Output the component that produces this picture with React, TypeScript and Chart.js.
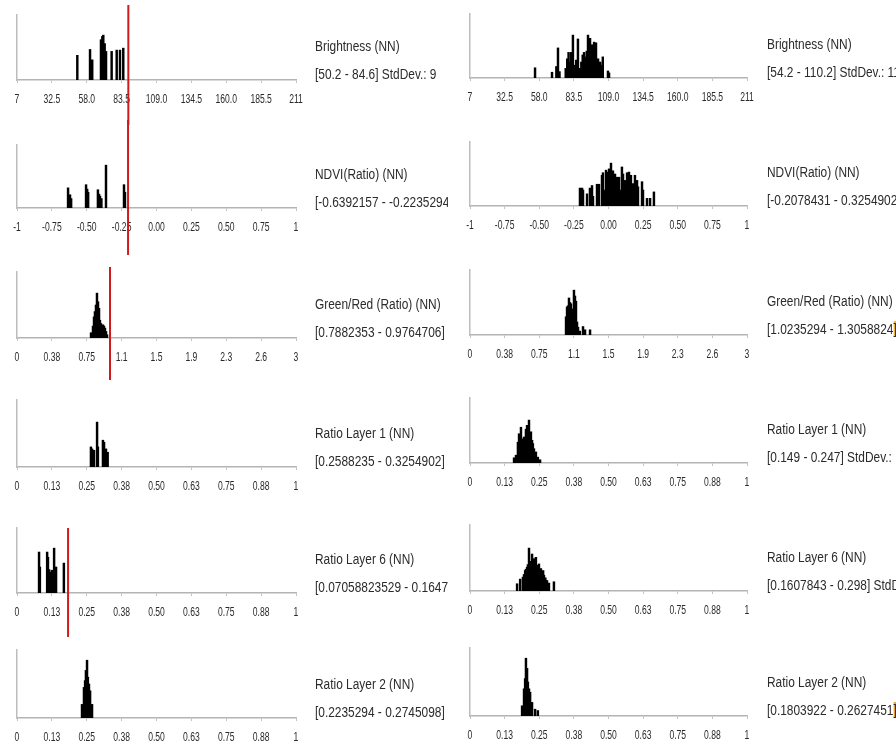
import React, { useEffect, useRef } from "react";
import { Chart, registerables } from "chart.js";
Chart.register(...registerables);

// ---------- tick values / labels ----------
const brightnessTicks = [7, 32.5, 58, 83.5, 109, 134.5, 160, 185.5, 211];
const brightnessTickLabels = ["7", "32.5", "58.0", "83.5", "109.0", "134.5", "160.0", "185.5", "211"];
const ndviTicks = [-1, -0.75, -0.5, -0.25, 0, 0.25, 0.5, 0.75, 1];
const ndviTickLabels = ["-1", "-0.75", "-0.50", "-0.25", "0.00", "0.25", "0.50", "0.75", "1"];
const greenRedTicks = [0, 0.375, 0.75, 1.125, 1.5, 1.875, 2.25, 2.625, 3];
const greenRedTickLabels = ["0", "0.38", "0.75", "1.1", "1.5", "1.9", "2.3", "2.6", "3"];
const ratioTicks = [0, 0.125, 0.25, 0.375, 0.5, 0.625, 0.75, 0.875, 1];
const ratioTickLabels = ["0", "0.13", "0.25", "0.38", "0.50", "0.63", "0.75", "0.88", "1"];

// ---------- histogram data (bin value, relative count) ----------
const brightnessLeftBins = [51.1, 60.4, 62.0, 68.4, 69.4, 70.1, 71.1, 72.1, 76.2, 79.9, 82.3, 84.7];
const brightnessLeftCounts = [38, 47, 31, 62, 67, 69, 56, 44, 44, 46, 46, 49];
const brightnessLeftMarker = 88.4;

const brightnessRightBins = [54.9, 67.4, 70.6, 71.8, 72.9, 77.5, 78.6, 79.6, 80.5, 81.5, 82.8, 84.0, 85.2, 86.5, 87.8, 89.0, 90.0, 91.0, 92.0, 93.0, 93.9, 94.7, 95.4, 96.2, 96.9, 97.6, 98.4, 99.1, 99.8, 100.6, 101.3, 102.1, 102.9, 103.7, 104.8, 108.6, 109.4];
const brightnessRightCounts = [16, 9, 18, 47, 10, 15, 30, 40, 25, 40, 67, 20, 28, 61, 15, 25, 36, 40, 33, 42, 67, 30, 62, 38, 52, 34, 56, 30, 55, 28, 30, 22, 25, 20, 33, 11, 8];

const ndviLeftBins = [-0.634, -0.62, -0.612, -0.505, -0.497, -0.49, -0.42, -0.412, -0.405, -0.395, -0.362, -0.233, -0.226];
const ndviLeftCounts = [32, 21, 15, 37, 30, 25, 29, 22, 19, 15, 68, 37, 25];
const ndviLeftMarker = -0.204;

const ndviRightBins = [-0.206, -0.191, -0.184, -0.155, -0.134, -0.119, -0.112, -0.083, -0.069, -0.047, -0.04, -0.03, -0.018, -0.011, 0.004, 0.011, 0.018, 0.025, 0.032, 0.04, 0.047, 0.054, 0.061, 0.068, 0.076, 0.083, 0.097, 0.105, 0.112, 0.119, 0.126, 0.134, 0.141, 0.148, 0.155, 0.162, 0.17, 0.177, 0.184, 0.191, 0.206, 0.213, 0.242, 0.249, 0.278, 0.3, 0.328];
const ndviRightCounts = [28, 28, 25, 19, 28, 32, 15, 34, 34, 48, 52, 25, 56, 53, 58, 30, 67, 28, 55, 26, 50, 24, 45, 27, 45, 25, 61, 50, 24, 40, 26, 52, 22, 53, 25, 48, 22, 35, 20, 48, 40, 30, 38, 25, 12, 12, 22];

const greenRedLeftBins = [0.796, 0.817, 0.828, 0.838, 0.849, 0.86, 0.871, 0.882, 0.892, 0.903, 0.914, 0.925, 0.935, 0.946, 0.957, 0.968];
const greenRedLeftCounts = [8, 18, 32, 40, 50, 68, 55, 45, 27, 22, 17, 20, 18, 15, 10, 5];
const greenRedLeftMarker = 1.0;

const greenRedRightBins = [1.04, 1.051, 1.061, 1.072, 1.083, 1.094, 1.105, 1.115, 1.126, 1.137, 1.148, 1.159, 1.17, 1.19, 1.224, 1.246, 1.3];
const greenRedRightCounts = [28, 43, 45, 57, 50, 48, 33, 40, 69, 60, 52, 20, 12, 6, 13, 8, 8];

const ratio1LeftBins = [0.265, 0.269, 0.276, 0.287, 0.29, 0.308, 0.312, 0.319, 0.325];
const ratio1LeftCounts = [30, 27, 25, 67, 30, 40, 37, 27, 22];

const ratio1RightBins = [0.159, 0.166, 0.173, 0.177, 0.18, 0.184, 0.188, 0.191, 0.195, 0.198, 0.202, 0.206, 0.209, 0.213, 0.217, 0.22, 0.224, 0.227, 0.231, 0.238, 0.245, 0.253];
const ratio1RightCounts = [8, 12, 32, 45, 40, 55, 35, 37, 40, 38, 52, 58, 50, 66, 45, 48, 35, 30, 22, 17, 9, 5];

const ratio6LeftBins = [0.079, 0.082, 0.108, 0.111, 0.115, 0.118, 0.122, 0.125, 0.129, 0.133, 0.14, 0.168];
const ratio6LeftCounts = [63, 40, 63, 55, 36, 32, 30, 35, 30, 69, 40, 46];
const ratio6LeftMarker = 0.183;

const ratio6RightBins = [0.17, 0.181, 0.191, 0.195, 0.199, 0.202, 0.206, 0.209, 0.213, 0.217, 0.22, 0.224, 0.227, 0.231, 0.235, 0.238, 0.242, 0.245, 0.249, 0.252, 0.256, 0.26, 0.264, 0.267, 0.272, 0.278, 0.285, 0.303];
const ratio6RightCounts = [11, 18, 21, 25, 31, 33, 36, 40, 65, 45, 44, 56, 42, 49, 40, 51, 39, 35, 41, 32, 34, 28, 31, 24, 20, 16, 12, 14];

const ratio2LeftBins = [0.233, 0.24, 0.244, 0.247, 0.251, 0.254, 0.258, 0.262, 0.269];
const ratio2LeftCounts = [20, 45, 55, 70, 85, 60, 50, 40, 20];

const ratio2RightBins = [0.188, 0.195, 0.199, 0.202, 0.206, 0.209, 0.213, 0.217, 0.224, 0.235, 0.245];
const ratio2RightCounts = [15, 40, 55, 85, 70, 50, 40, 35, 20, 10, 8];

// ---------- panel texts ----------
const leftTitles = ["Brightness (NN)", "NDVI(Ratio) (NN)", "Green/Red (Ratio) (NN)", "Ratio Layer 1 (NN)", "Ratio Layer 6 (NN)", "Ratio Layer 2 (NN)"];
const leftRanges = ["[50.2 - 84.6] StdDev.: 9", "[-0.6392157 - -0.2235294]", "[0.7882353 - 0.9764706]", "[0.2588235 - 0.3254902]", "[0.07058823529 - 0.1647059]", "[0.2235294 - 0.2745098]"];
const rightTitles = ["Brightness (NN)", "NDVI(Ratio) (NN)", "Green/Red (Ratio) (NN)", "Ratio Layer 1 (NN)", "Ratio Layer 6 (NN)", "Ratio Layer 2 (NN)"];
const rightRanges = ["[54.2 - 110.2] StdDev.: 11.2", "[-0.2078431 - 0.3254902] StdDev.: 0.1", "[1.0235294 - 1.3058824", "[0.149 - 0.247] StdDev.:", "[0.1607843 - 0.298] StdDev.: 0.02", "[0.1803922 - 0.2627451"];
// highlighted closing bracket (selection marks visible in the source)
const rightRangeHighlights = ["", "", "#f1c232", "", "", "#eda63a"];

type Panel = {
  bins: number[];
  counts: number[];
  ticks: number[];
  tickLabels: string[];
  marker?: number;
};

const leftPanels: Panel[] = [
  { bins: brightnessLeftBins, counts: brightnessLeftCounts, ticks: brightnessTicks, tickLabels: brightnessTickLabels, marker: brightnessLeftMarker },
  { bins: ndviLeftBins, counts: ndviLeftCounts, ticks: ndviTicks, tickLabels: ndviTickLabels, marker: ndviLeftMarker },
  { bins: greenRedLeftBins, counts: greenRedLeftCounts, ticks: greenRedTicks, tickLabels: greenRedTickLabels, marker: greenRedLeftMarker },
  { bins: ratio1LeftBins, counts: ratio1LeftCounts, ticks: ratioTicks, tickLabels: ratioTickLabels },
  { bins: ratio6LeftBins, counts: ratio6LeftCounts, ticks: ratioTicks, tickLabels: ratioTickLabels, marker: ratio6LeftMarker },
  { bins: ratio2LeftBins, counts: ratio2LeftCounts, ticks: ratioTicks, tickLabels: ratioTickLabels },
];
const rightPanels: Panel[] = [
  { bins: brightnessRightBins, counts: brightnessRightCounts, ticks: brightnessTicks, tickLabels: brightnessTickLabels },
  { bins: ndviRightBins, counts: ndviRightCounts, ticks: ndviTicks, tickLabels: ndviTickLabels },
  { bins: greenRedRightBins, counts: greenRedRightCounts, ticks: greenRedTicks, tickLabels: greenRedTickLabels },
  { bins: ratio1RightBins, counts: ratio1RightCounts, ticks: ratioTicks, tickLabels: ratioTickLabels },
  { bins: ratio6RightBins, counts: ratio6RightCounts, ticks: ratioTicks, tickLabels: ratioTickLabels },
  { bins: ratio2RightBins, counts: ratio2RightCounts, ticks: ratioTicks, tickLabels: ratioTickLabels },
];

// ---------- layout (pixels) ----------
const LEFT_COL = { axisLeft: 17, axisRight: 296, textX: 315, textW: 133 };
const RIGHT_COL = { axisLeft: 470, axisRight: 747, textX: 767, textW: 140 };
const leftTops = [15, 145, 272, 400, 528, 650];
const leftBases = [80, 208, 338, 467, 593, 718];
const rightTops = [14, 142, 270, 398, 525, 648];
const rightBases = [78, 206, 335, 463, 591, 716];
// red marker extents above axis top / below baseline
const leftMarkerExt = [
  [10, 45],
  [25, 47],
  [5, 42],
  [0, 0],
  [0, 44],
  [0, 0],
];

const PADL = 24, PADR = 24, PADT = 30, PADB = 30;
const TICK_LEN = 3, TICK_PAD = 9, TICK_SIZE = 13, TICK_LH = 14;
const XAXIS_H = TICK_LEN + TICK_PAD + TICK_LH;
const TICK_SQUEEZE = 0.66;
const TICK_FONT = "'Liberation Sans', Arial, sans-serif";
const TEXT_FONT = "'Liberation Sans', Arial, sans-serif";

// squeeze tick labels horizontally (narrow font look) using fillText maxWidth
const narrowTicksPlugin = {
  id: "narrowTicks",
  beforeDraw(chart: any) {
    const sc = chart.scales.x;
    if (!sc) return;
    const items = sc.getLabelItems();
    const ctx = chart.ctx;
    ctx.save();
    for (const it of items) {
      ctx.font = it.font.string;
      const w = ctx.measureText(String(it.label)).width;
      it.options.maxWidth = w * TICK_SQUEEZE;
    }
    ctx.restore();
  },
};

const markerPlugin = {
  id: "marker",
  afterDraw(chart: any, _args: any, opts: any) {
    if (opts.value === undefined || opts.value === null) return;
    const x = chart.scales.x.getPixelForValue(opts.value);
    const { top, bottom } = chart.chartArea;
    const ctx = chart.ctx;
    ctx.save();
    ctx.strokeStyle = "#d31a1a";
    ctx.lineWidth = 2;
    ctx.beginPath();
    ctx.moveTo(x, top - opts.above);
    ctx.lineTo(x, bottom + opts.below);
    ctx.stroke();
    ctx.restore();
  },
};

function Histogram({ p, left, right, top, base, ext }: { p: Panel; left: number; right: number; top: number; base: number; ext: number[] }) {
  const ref = useRef<HTMLCanvasElement>(null);
  const w = right - left + PADL + PADR;
  const h = base - top + PADT + XAXIS_H + PADB;
  useEffect(() => {
    const min = p.ticks[0];
    const max = p.ticks[p.ticks.length - 1];
    const chart = new Chart(ref.current as HTMLCanvasElement, {
      type: "bar",
      data: {
        datasets: [
          {
            data: p.bins.map((x, i) => ({ x, y: p.counts[i] })) as any,
            backgroundColor: "#000",
            borderWidth: 0,
            barThickness: 1.8,
          },
        ],
      },
      options: {
        animation: false,
        responsive: false,
        events: [],
        layout: { padding: { left: PADL, right: PADR, top: PADT, bottom: PADB } },
        plugins: {
          legend: { display: false },
          tooltip: { enabled: false },
          marker: { value: p.marker, above: ext[0], below: ext[1] },
        } as any,
        scales: {
          x: {
            type: "linear",
            min,
            max,
            offset: false,
            afterBuildTicks: (ax: any) => {
              ax.ticks = p.ticks.map((v) => ({ value: v }));
            },
            afterFit: (ax: any) => {
              ax.height = XAXIS_H;
            },
            ticks: {
              autoSkip: false,
              maxRotation: 0,
              padding: TICK_PAD,
              color: "#2a2a2a",
              font: { family: TICK_FONT, size: TICK_SIZE, lineHeight: TICK_LH + "px" },
              callback: (_v: any, i: number) => p.tickLabels[i],
            },
            grid: { offset: false, drawOnChartArea: false, drawTicks: true, tickLength: TICK_LEN, color: "#c4c4c4" },
            border: { color: "#b4b4b4", width: 1.5 },
          },
          y: {
            min: 0,
            max: 100,
            afterFit: (ax: any) => {
              ax.width = 0;
            },
            ticks: { display: false },
            grid: { display: false, drawTicks: false },
            border: { color: "#bdbdbd", width: 1.5 },
          },
        },
      },
      plugins: [narrowTicksPlugin, markerPlugin],
    });
    return () => chart.destroy();
  }, []);
  return (
    <canvas
      ref={ref}
      width={w}
      height={h}
      style={{ position: "absolute", left: left - PADL, top: top - PADT }}
    />
  );
}

function PanelText({ x, w, base, title, range, highlight }: { x: number; w: number; base: number; title: string; range: string; highlight?: string }) {
  const line = (content: React.ReactNode, cy: number) => (
    <div
      style={{
        position: "absolute",
        left: x,
        top: cy - 9,
        width: w,
        height: 18,
        overflow: "hidden",
        whiteSpace: "nowrap",
      }}
    >
      <div
        style={{
          fontFamily: TEXT_FONT,
          fontSize: 14,
          lineHeight: "18px",
          color: "#2b2b2b",
          transform: "scaleX(0.85)",
          transformOrigin: "left center",
          whiteSpace: "nowrap",
        }}
      >
        {content}
      </div>
    </div>
  );
  return (
    <>
      {line(title, base - 34)}
      {line(
        <>
          {range}
          {highlight ? <span style={{ background: highlight, color: "#2b2b2b" }}>]</span> : null}
        </>,
        base - 6
      )}
    </>
  );
}

export default function App() {
  return (
    <div
      style={{
        position: "absolute",
        left: 0,
        top: 0,
        width: 896,
        height: 754,
        overflow: "hidden",
        background: "#fff",
      }}
    >
      {leftPanels.map((p, i) => (
        <Histogram key={"l" + i} p={p} left={LEFT_COL.axisLeft} right={LEFT_COL.axisRight} top={leftTops[i]} base={leftBases[i]} ext={leftMarkerExt[i]} />
      ))}
      {rightPanels.map((p, i) => (
        <Histogram key={"r" + i} p={p} left={RIGHT_COL.axisLeft} right={RIGHT_COL.axisRight} top={rightTops[i]} base={rightBases[i]} ext={[0, 0]} />
      ))}
      {leftTitles.map((t, i) => (
        <PanelText key={"lt" + i} x={LEFT_COL.textX} w={LEFT_COL.textW} base={leftBases[i]} title={t} range={leftRanges[i]} />
      ))}
      {rightTitles.map((t, i) => (
        <PanelText key={"rt" + i} x={RIGHT_COL.textX} w={RIGHT_COL.textW} base={rightBases[i]} title={t} range={rightRanges[i]} highlight={rightRangeHighlights[i]} />
      ))}
    </div>
  );
}
